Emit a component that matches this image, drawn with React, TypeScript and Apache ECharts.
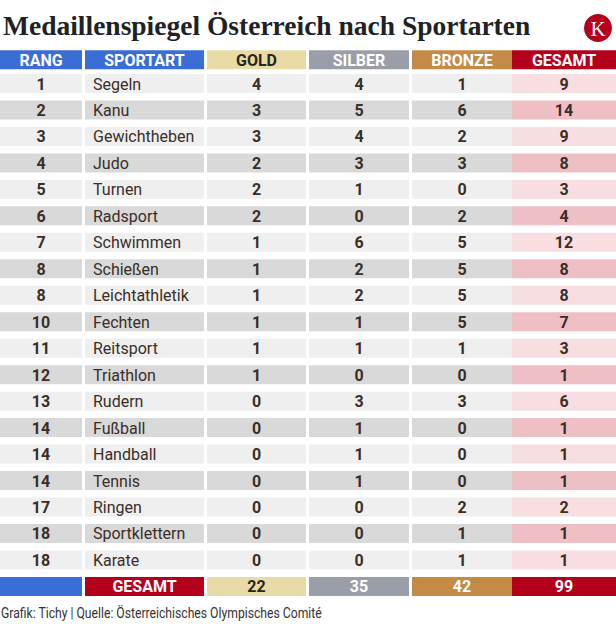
import React, { useEffect, useRef } from "react";
import * as echarts from "echarts";

const titleText = "Medaillenspiegel Österreich nach Sportarten";
const footerText = "Grafik: Tichy | Quelle: Österreichisches Olympisches Comité";
const headers = ["RANG", "SPORTART", "GOLD", "SILBER", "BRONZE", "GESAMT"];
const rang = [1, 2, 3, 4, 5, 6, 7, 8, 8, 10, 11, 12, 13, 14, 14, 14, 17, 18, 18];
const sportarten = [
  "Segeln", "Kanu", "Gewichtheben", "Judo", "Turnen", "Radsport", "Schwimmen",
  "Schießen", "Leichtathletik", "Fechten", "Reitsport", "Triathlon", "Rudern",
  "Fußball", "Handball", "Tennis", "Ringen", "Sportklettern", "Karate",
];
const gold = [4, 3, 3, 2, 2, 2, 1, 1, 1, 1, 1, 1, 0, 0, 0, 0, 0, 0, 0];
const silber = [4, 5, 4, 3, 1, 0, 6, 2, 2, 1, 1, 0, 3, 1, 1, 1, 0, 0, 0];
const bronze = [1, 6, 2, 3, 0, 2, 5, 5, 5, 5, 1, 0, 3, 0, 0, 0, 2, 1, 1];
const gesamt = [9, 14, 9, 8, 3, 4, 12, 8, 8, 7, 3, 1, 6, 1, 1, 1, 2, 1, 1];
const totalLabel = "GESAMT";
const totals = ["", totalLabel, 22, 35, 42, 99];

// layout (pixels / styles)
const COLS = [
  { x0: 0, x1: 82 },
  { x0: 85, x1: 204 },
  { x0: 207, x1: 306 },
  { x0: 309, x1: 409 },
  { x0: 412, x1: 512 },
  { x0: 512, x1: 616 },
];
const HEAD_BG = ["#3a6dd6", "#3a6dd6", "#e9dba6", "#9a9ea8", "#c38b45", "#b5001b"];
const HEAD_FG = ["#ffffff", "#ffffff", "#2a2520", "#ffffff", "#ffffff", "#ffffff"];
const TOTAL_BG = ["#3a6dd6", "#b5001b", "#e9dba6", "#9a9ea8", "#c38b45", "#b5001b"];
const TOTAL_FG = ["#ffffff", "#ffffff", "#2a2520", "#ffffff", "#ffffff", "#ffffff"];
const ROW_BG = ["#efefef", "#d9d9d9"];
const SUM_BG = ["#f8dde1", "#efbfc6"];
const TXT = "#3a2e26";
const HEADER_ROW = -0.9;
const TOTAL_ROW = 19;
const CELL_H = 19;

type Cell = { col: number; row: number; text: string; bg: string; fg: string; font: string; align: string };

function buildCells(): Cell[] {
  const cells: Cell[] = [];
  headers.forEach((h, c) =>
    cells.push({ col: c, row: HEADER_ROW, text: h, bg: HEAD_BG[c], fg: HEAD_FG[c], font: "bold 16px Roboto", align: "center" })
  );
  sportarten.forEach((s, i) => {
    const vals = [rang[i], s, gold[i], silber[i], bronze[i], gesamt[i]];
    vals.forEach((v, c) => {
      const bg = c === 5 ? SUM_BG[i % 2] : ROW_BG[i % 2];
      cells.push({
        col: c,
        row: i,
        text: String(v),
        bg,
        fg: TXT,
        font: c === 1 ? "16px Roboto" : "bold 16px Roboto",
        align: c === 1 ? "left" : "center",
      });
    });
  });
  totals.forEach((v, c) =>
    cells.push({ col: c, row: TOTAL_ROW, text: String(v), bg: TOTAL_BG[c], fg: TOTAL_FG[c], font: "bold 16px Roboto", align: "center" })
  );
  return cells;
}

export default function App() {
  const ref = useRef<HTMLDivElement>(null);
  useEffect(() => {
    if (!ref.current) return;
    const chart = echarts.init(ref.current, null, { renderer: "svg" });
    const cells = buildCells();
    const yMin = -1.4;
    const yMax = 19.5;
    const pitch = 26.47;
    const top = 83.5 + yMin * pitch;
    const height = (yMax - yMin) * pitch;
    chart.setOption({
      animation: false,
      grid: { left: 0, right: 0, top, height },
      xAxis: { type: "value", min: 0, max: 616, show: false },
      yAxis: { type: "value", min: yMin, max: yMax, inverse: true, show: false },
      graphic: [
        {
          type: "text",
          left: 3,
          top: 11,
          style: { text: titleText, font: "bold 27.5px 'Liberation Serif'", fill: "#1e2227" },
        },
        { type: "circle", shape: { cx: 598, cy: 28, r: 14 }, style: { fill: "#b5001b" } },
        {
          type: "text",
          x: 598,
          y: 29,
          style: { text: "K", font: "21px 'Liberation Serif'", fill: "#ffffff", align: "center", verticalAlign: "middle" },
        },
        {
          type: "text",
          x: 1,
          y: 613,
          scaleX: 0.87,
          style: { text: footerText, font: "14px Roboto", fill: "#333333", verticalAlign: "middle" },
        },
      ],
      series: [
        {
          type: "custom",
          coordinateSystem: "cartesian2d",
          data: cells.map((c) => [COLS[c.col].x0, c.row]),
          renderItem: (params: any, api: any) => {
            const cell = cells[params.dataIndex];
            const col = COLS[cell.col];
            const p0 = api.coord([col.x0, cell.row]);
            const p1 = api.coord([col.x1, cell.row]);
            const x0 = p0[0];
            const x1 = p1[0];
            const yc = p0[1];
            const tx = cell.align === "left" ? x0 + 8 : (x0 + x1) / 2;
            return {
              type: "group",
              children: [
                { type: "rect", shape: { x: x0, y: yc - CELL_H / 2, width: x1 - x0, height: CELL_H }, style: { fill: cell.bg } },
                {
                  type: "text",
                  x: tx,
                  y: yc + 0.5,
                  style: { text: cell.text, fill: cell.fg, font: cell.font, align: cell.align, verticalAlign: "middle" },
                },
              ],
            };
          },
        },
      ],
    });
    return () => chart.dispose();
  }, []);
  return <div ref={ref} style={{ position: "absolute", left: 0, top: 0, width: 616, height: 630 }} />;
}
